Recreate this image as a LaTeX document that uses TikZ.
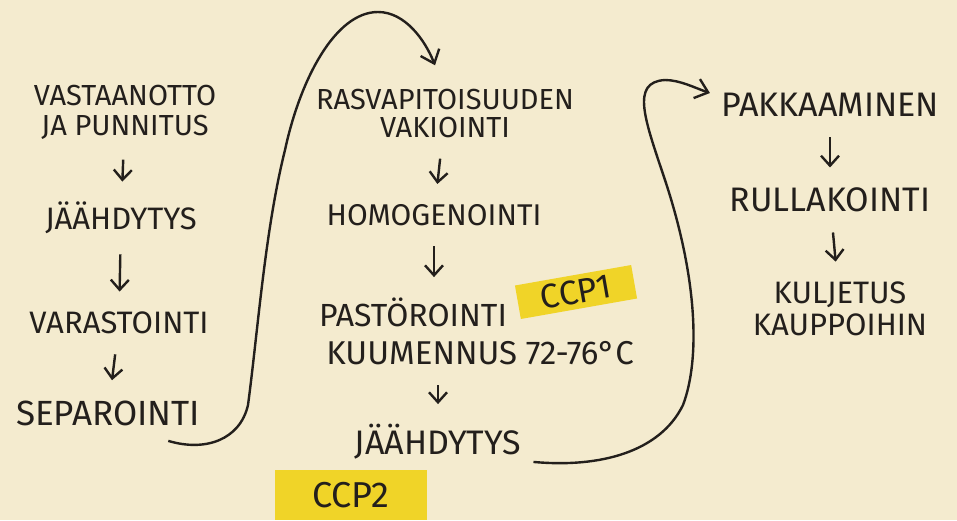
\documentclass[tikz,border=0pt]{standalone}
\usepackage{fontspec}
\setmainfont{Fira Sans}
\usepackage{xcolor}
\usetikzlibrary{
  arrows.meta,
  calc
}
\definecolor{tausta}{HTML}{F4EBCF}
\definecolor{keltainen}{HTML}{F0D428}
\definecolor{muste}{HTML}{231F1C}

\begin{document}
\begin{tikzpicture}[
    x=0.5pt,
    y=-0.5pt,
    vaihe/.style={
    text=muste,
    align=center,
    inner sep=3pt,
    font=\fontsize{15}{15}\selectfont
    },
    korostus/.style={
    fill=keltainen,
    text=muste,
    inner sep=0pt
    },
    nuoli/.style={-{Straight Barb[length=5pt,width=9pt]},line width=1.2pt,draw=muste,shorten <=7pt,shorten >=7pt},
    kaari/.style={-{Straight Barb[length=6pt,width=10pt]},line width=1.2pt,draw=muste}
    ]

    \useasboundingbox (0,0) rectangle (957,520);
    \clip (0,0) rectangle (957,520);
    \fill[tausta] (0,0) rectangle (957,520);

    \node[vaihe, font=\fontsize{14.5}{15}\selectfont] (vast) at (125,112)
    {VASTAANOTTO\\JA PUNNITUS};

    \node[vaihe, font=\fontsize{15.5}{16}\selectfont] (jaah1) at (121,218)
    {JÄÄHDYTYS};

    \node[vaihe, font=\fontsize{15.5}{16}\selectfont] (vara) at (119,323)
    {VARASTOINTI};

    \node[vaihe, font=\fontsize{17.5}{18}\selectfont] (sepa) at (108,413)
    {SEPAROINTI};

    \node[vaihe, font=\fontsize{14.5}{14}\selectfont] (rasva) at (445,114)
    {RASVAPITOISUUDEN\\VAKIOINTI};

    \node[vaihe] (homo) at (434,215)
    {HOMOGENOINTI};

    \node[vaihe, font=\fontsize{16}{16}\selectfont] (past) at (413,312)
    {PASTÖROINTI};

    \node[korostus, rotate=10, minimum width=59pt, minimum height=17pt,
    font=\fontsize{17}{17}\selectfont] (ccp1) at (576,292)
    {CCP1};

    \node[vaihe, font=\fontsize{16.5}{17}\selectfont] (kuum) at (480,353)
    {KUUMENNUS 72-76°C};

    \node[vaihe, font=\fontsize{17}{17}\selectfont] (jaah2) at (438,442)
    {JÄÄHDYTYS};

    \node[korostus, minimum width=76pt, minimum height=25pt,
    font=\fontsize{18}{18}\selectfont] (ccp2) at (351,495)
    {CCP2};

    \node[vaihe, font=\fontsize{17}{17}\selectfont] (pakk) at (830,105)
    {PAKKAAMINEN};

    \node[vaihe, font=\fontsize{17}{17}\selectfont] (rull) at (830,200)
    {RULLAKOINTI};

    \node[vaihe, font=\fontsize{15.5}{16}\selectfont] (kulj) at (840,309)
    {KULJETUS\\KAUPPOIHIN};

    \draw[nuoli] (vast) -- (jaah1);
    \draw[nuoli] (jaah1) -- (vara);
    \draw[nuoli] (vara) -- (sepa);
    \draw[nuoli] (rasva) -- (homo);
    \draw[nuoli] (homo.south) -- (homo.south |- past.north);
    \draw[nuoli] (jaah2.north |- kuum.south) -- (jaah2.north);
    \draw[nuoli] (pakk) -- (rull);
    \draw[nuoli] (rull) -- (kulj);

    \draw[kaari] ($(sepa.south east)+(-38,9)$) .. controls (205,452) and (240,440) .. (248,405)
    .. controls (258,330) and (265,230) .. (285,150)
    .. controls (300,80) and (335,12) .. (378,12)
    .. controls (405,12) and (425,40) .. ($(rasva.north)+(-10,-18)$);

    \draw[kaari] ($(jaah2.south east)+(6,-4)$) .. controls (600,468) and (660,452) .. (683,405)
    .. controls (700,360) and (698,280) .. (665,180)
    .. controls (645,120) and (630,82) .. (665,80)
    .. controls (680,80) and (695,88) .. ($(pakk.west)+(-5,-12)$);

\end{tikzpicture}
\end{document}
